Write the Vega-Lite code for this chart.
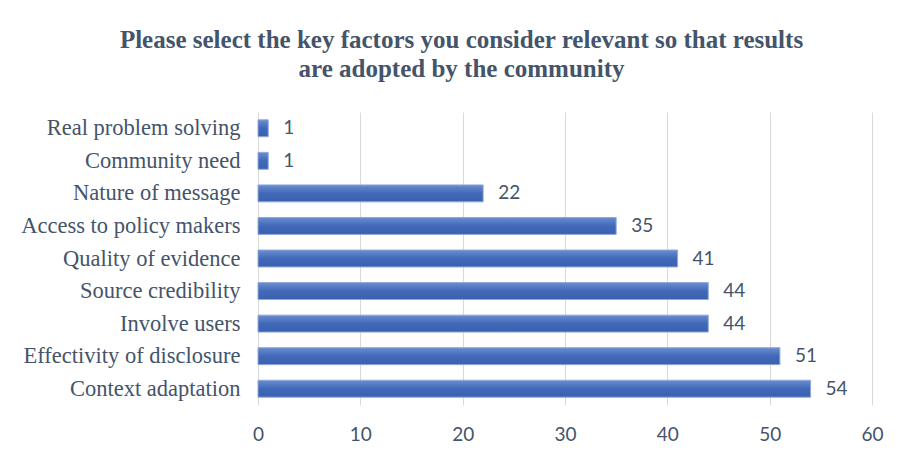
{
  "$schema": "https://vega.github.io/schema/vega-lite/v6.json",
  "width": 614,
  "height": 293,
  "padding": {"left": 0, "top": 28, "right": 20, "bottom": 10},
  "background": "white",
  "title": {
    "text": ["Please select the key factors you consider relevant so that results", "are adopted by the community"],
    "font": "Liberation Serif",
    "fontSize": 25,
    "fontWeight": "bold",
    "color": "#44546A",
    "lineHeight": 29,
    "anchor": "middle",
    "frame": "bounds",
    "dx": 20,
    "offset": 30
  },
  "data": {
    "values": [
      {"factor": "Real problem solving", "count": 1},
      {"factor": "Community need", "count": 1},
      {"factor": "Nature of message", "count": 22},
      {"factor": "Access to policy makers", "count": 35},
      {"factor": "Quality of evidence", "count": 41},
      {"factor": "Source credibility", "count": 44},
      {"factor": "Involve users", "count": 44},
      {"factor": "Effectivity of disclosure", "count": 51},
      {"factor": "Context adaptation", "count": 54}
    ]
  },
  "encoding": {
    "y": {
      "field": "factor",
      "type": "nominal",
      "sort": null,
      "title": null,
      "scale": {"paddingInner": 0.48, "paddingOuter": 0.24},
      "axis": {
        "domain": false,
        "ticks": false,
        "labelPadding": 18,
        "labelFont": "Liberation Serif",
        "labelFontSize": 22.5,
        "labelColor": "#44546A",
        "labelLimit": 300,
        "minExtent": 258,
        "maxExtent": 258
      }
    },
    "x": {
      "field": "count",
      "type": "quantitative",
      "title": null,
      "scale": {"domain": [0, 60], "nice": false},
      "axis": {
        "values": [0, 10, 20, 30, 40, 50, 60],
        "domain": false,
        "ticks": false,
        "grid": true,
        "gridColor": "#D9D9D9",
        "gridWidth": 1,
        "labelFlush": false,
        "labelPadding": 20,
        "labelFont": "Lato",
        "labelFontSize": 19,
        "labelColor": "#44546A"
      }
    }
  },
  "layer": [
    {
      "mark": {
        "type": "bar",
        "stroke": "#8FA9DC",
        "strokeWidth": 1,
        "color": {
          "gradient": "linear",
          "x1": 0, "y1": 0, "x2": 0, "y2": 1,
          "stops": [
            {"offset": 0, "color": "#6A8DD0"},
            {"offset": 0.5, "color": "#4169B8"},
            {"offset": 1, "color": "#3A61AE"}
          ]
        }
      }
    },
    {
      "mark": {
        "type": "text",
        "align": "left",
        "baseline": "middle",
        "dx": 15,
        "font": "Lato",
        "fontSize": 19,
        "color": "#44546A"
      },
      "encoding": {"text": {"field": "count", "type": "quantitative"}}
    }
  ],
  "config": {"view": {"stroke": null}}
}
